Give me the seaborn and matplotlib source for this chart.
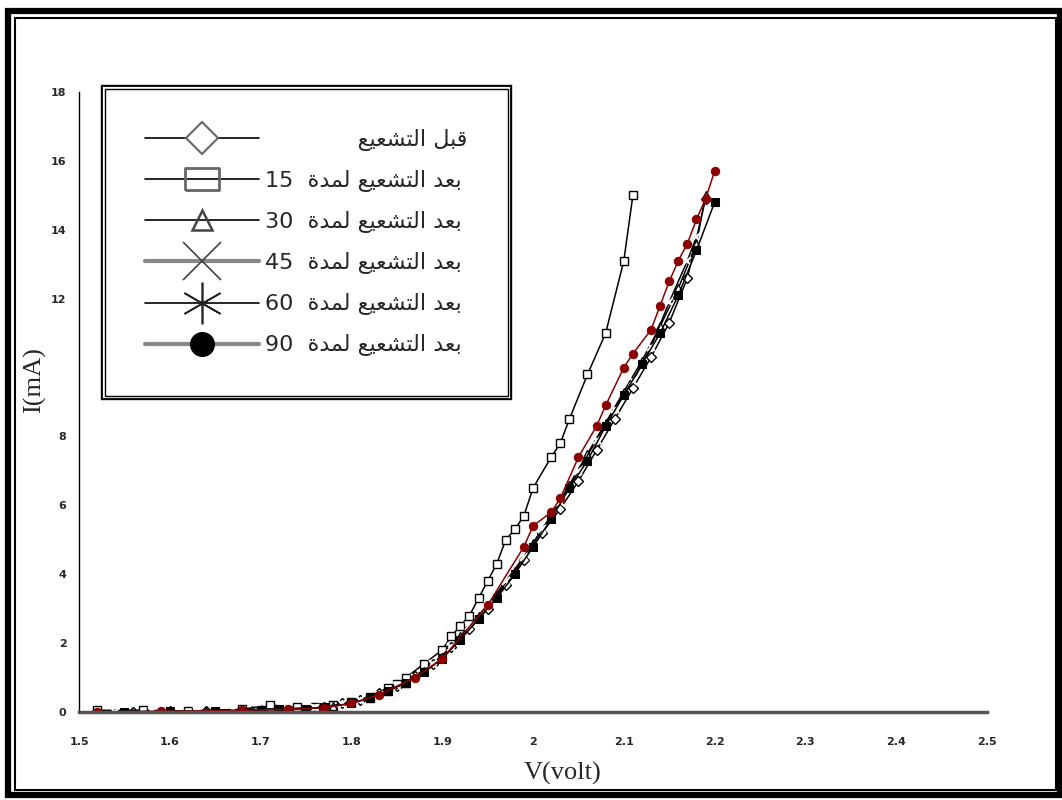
import seaborn as sns
import matplotlib.pyplot as plt
import matplotlib.patheffects as pe
from matplotlib.lines import Line2D
from matplotlib.patches import Rectangle

# I-V readings (V in volt, I in mA) for each irradiation time
before_v = [1.52, 1.56, 1.60, 1.64, 1.68, 1.71, 1.74, 1.77, 1.79, 1.81, 1.83, 1.85, 1.87, 1.89, 1.91,
            1.93, 1.95, 1.97, 1.99, 2.01, 2.03, 2.05, 2.07, 2.09, 2.11, 2.13, 2.15, 2.17, 2.19]
before_i = [0.03, 0.0, 0.02, 0.03, 0.05, 0.08, 0.1, 0.15, 0.25, 0.35, 0.55, 0.75, 1.05, 1.4, 1.9,
            2.4, 3.0, 3.7, 4.4, 5.2, 5.9, 6.7, 7.6, 8.5, 9.4, 10.3, 11.3, 12.6, 14.9]

t15_v = [1.52, 1.57, 1.62, 1.68, 1.71, 1.74, 1.76, 1.78, 1.80, 1.82, 1.84, 1.85, 1.86, 1.88, 1.90, 1.91,
         1.92, 1.93, 1.94, 1.95, 1.96, 1.97, 1.98, 1.99, 2.00, 2.02, 2.03, 2.04, 2.06, 2.08, 2.10, 2.11]
t15_i = [0.05, 0.05, 0.03, 0.08, 0.2, 0.15, 0.15, 0.2, 0.3, 0.45, 0.7, 0.8, 1.0, 1.4, 1.8, 2.2,
         2.5, 2.8, 3.3, 3.8, 4.3, 5.0, 5.3, 5.7, 6.5, 7.4, 7.8, 8.5, 9.8, 11.0, 13.1, 15.0]

t30_v = [1.55, 1.59, 1.64, 1.69, 1.72, 1.75, 1.78, 1.80, 1.82, 1.84, 1.86, 1.88, 1.90, 1.92, 1.94,
         1.96, 1.98, 2.00, 2.02, 2.04, 2.06, 2.08, 2.10, 2.12, 2.14, 2.16, 2.18, 2.19]
t30_i = [0.0, 0.01, 0.03, 0.06, 0.08, 0.1, 0.18, 0.28, 0.42, 0.62, 0.85, 1.2, 1.6, 2.2, 2.8,
         3.4, 4.1, 4.9, 5.7, 6.6, 7.5, 8.4, 9.3, 10.2, 11.2, 12.3, 13.6, 15.0]

t45_v = [1.54, 1.58, 1.63, 1.67, 1.70, 1.73, 1.76, 1.79, 1.81, 1.83, 1.85, 1.87, 1.89, 1.91, 1.93,
         1.95, 1.97, 1.99, 2.01, 2.03, 2.05, 2.07, 2.09, 2.11, 2.13, 2.15, 2.17, 2.18]
t45_i = [0.0, 0.02, 0.03, 0.05, 0.08, 0.1, 0.13, 0.22, 0.35, 0.5, 0.75, 1.0, 1.4, 1.9, 2.5,
         3.1, 3.8, 4.5, 5.3, 6.1, 7.0, 7.9, 8.8, 9.6, 10.6, 11.9, 13.1, 13.8]

t60_v = [1.55, 1.60, 1.65, 1.70, 1.72, 1.75, 1.77, 1.80, 1.82, 1.84, 1.86, 1.88, 1.90, 1.92, 1.94,
         1.96, 1.98, 2.00, 2.02, 2.04, 2.06, 2.08, 2.10, 2.12, 2.14, 2.16, 2.18, 2.20]
t60_i = [0.0, 0.02, 0.03, 0.06, 0.08, 0.1, 0.14, 0.25, 0.4, 0.6, 0.85, 1.15, 1.55, 2.1, 2.7,
         3.3, 4.0, 4.8, 5.6, 6.5, 7.3, 8.3, 9.2, 10.1, 11.0, 12.1, 13.4, 14.8]

t90_v = [1.52, 1.59, 1.68, 1.73, 1.77, 1.80, 1.83, 1.87, 1.90, 1.95, 1.99, 2.00, 2.02, 2.03,
         2.05, 2.07, 2.08, 2.10, 2.11, 2.13, 2.14, 2.15, 2.16, 2.17, 2.18, 2.19, 2.20]
t90_i = [0.0, 0.02, 0.05, 0.08, 0.12, 0.25, 0.5, 1.0, 1.55, 3.1, 4.8, 5.4, 5.8, 6.2,
         7.4, 8.3, 8.9, 10.0, 10.4, 11.1, 11.8, 12.5, 13.1, 13.6, 14.3, 14.9, 15.7]

x_ticks = [1.5, 1.6, 1.7, 1.8, 1.9, 2.0, 2.1, 2.2, 2.3, 2.4, 2.5]
x_labels = ['1.5', '1.6', '1.7', '1.8', '1.9', '2', '2.1', '2.2', '2.3', '2.4', '2.5']
y_ticks = [0, 2, 4, 6, 8, 10, 12, 14, 16, 18]
y_labels = ['0', '2', '4', '6', '8', '', '12', '14', '16', '18']

label_before = 'قبل التشعيع'
label_after = 'بعد التشعيع لمدة'
minutes = ['15', '30', '45', '60', '90']

# matplotlib does no Arabic shaping, so use presentation forms in visual order
FORMS = {
    'ا': ('\uFE8D', '\uFE8E', None, None),
    'ب': ('\uFE8F', '\uFE90', '\uFE91', '\uFE92'),
    'ة': ('\uFE93', '\uFE94', None, None),
    'ت': ('\uFE95', '\uFE96', '\uFE97', '\uFE98'),
    'د': ('\uFEA9', '\uFEAA', None, None),
    'ش': ('\uFEB5', '\uFEB6', '\uFEB7', '\uFEB8'),
    'ع': ('\uFEC9', '\uFECA', '\uFECB', '\uFECC'),
    'ق': ('\uFED5', '\uFED6', '\uFED7', '\uFED8'),
    'ل': ('\uFEDD', '\uFEDE', '\uFEDF', '\uFEE0'),
    'م': ('\uFEE1', '\uFEE2', '\uFEE3', '\uFEE4'),
    'ي': ('\uFEF1', '\uFEF2', '\uFEF3', '\uFEF4'),
}


def shape(text):
    out = []
    for k, ch in enumerate(text):
        if ch not in FORMS:
            out.append(ch)
            continue
        iso, fin, ini, med = FORMS[ch]
        prev = text[k - 1] if k > 0 else ''
        nxt = text[k + 1] if k + 1 < len(text) else ''
        from_prev = prev in FORMS and FORMS[prev][2] is not None
        to_next = ini is not None and nxt in FORMS
        if from_prev and to_next:
            out.append(med)
        elif from_prev:
            out.append(fin)
        elif to_next:
            out.append(ini)
        else:
            out.append(iso)
    return ''.join(reversed(out))


sns.set_style('white')
plt.rcParams['font.family'] = ['DejaVu Sans']

fig = plt.figure(figsize=(10.62, 8), dpi=100)
ax = fig.add_axes([0.0744, 0.11, 0.855, 0.775])

red = '#8b0000'
open_kw = dict(markerfacecolor='white', markeredgecolor='black', markeredgewidth=1.0)
sns.lineplot(x=before_v, y=before_i, ax=ax, sort=False, color='black', lw=1.1,
             marker='D', markersize=5, **open_kw)
sns.lineplot(x=t15_v, y=t15_i, ax=ax, sort=False, color='black', lw=1.1,
             marker='s', markersize=6, **open_kw)
sns.lineplot(x=t30_v, y=t30_i, ax=ax, sort=False, color='black', lw=1.1,
             marker='^', markersize=6, **open_kw)
sns.lineplot(x=t45_v, y=t45_i, ax=ax, sort=False, color='black', lw=1.1,
             marker='x', markersize=6, markeredgewidth=1.5)
sns.lineplot(x=t60_v, y=t60_i, ax=ax, sort=False, color='black', lw=1.1,
             marker='s', markersize=6, markerfacecolor='black', markeredgecolor='black')
sns.lineplot(x=t90_v, y=t90_i, ax=ax, sort=False, color=red, lw=1.1,
             marker='o', markersize=6, markerfacecolor=red, markeredgecolor=red)

ax.set_xlim(1.5, 2.5)
ax.set_ylim(0, 18)
ax.set_xticks(x_ticks)
ax.set_xticklabels(x_labels, fontsize=8, fontweight='bold')
ax.set_yticks(y_ticks)
ax.set_yticklabels(y_labels, fontsize=8, fontweight='bold')
ax.tick_params(axis='x', direction='in', length=3, width=1.5, pad=18)
ax.tick_params(axis='y', direction='out', length=4, width=1, pad=5)

for side in ['top', 'right']:
    ax.spines[side].set_visible(False)
ax.spines['left'].set_color('black')
ax.spines['left'].set_linewidth(1)
ax.spines['bottom'].set_color('#555555')
ax.spines['bottom'].set_linewidth(2.5)

ax.set_xlabel('V(volt)', fontsize=19, family='Liberation Serif')
ax.set_ylabel('I(mA)', fontsize=19, family='Liberation Serif')
ax.xaxis.set_label_coords(0.533, -0.08)
ax.yaxis.set_label_coords(-0.036, 0.535)

# legend with large sample markers
wide_box = [(-1.5, -1), (1.5, -1), (1.5, 1), (-1.5, 1), (-1.5, -1)]
handles = [
    Line2D([], [], color='black', lw=1.2, marker='D', markersize=16,
           markerfacecolor='white', markeredgecolor='#666666', markeredgewidth=1.5),
    Line2D([], [], color='black', lw=1.2, marker=wide_box, markersize=24,
           markerfacecolor='none', markeredgecolor='#666666', markeredgewidth=2),
    Line2D([], [], color='black', lw=1.2, marker='^', markersize=15,
           markerfacecolor='none', markeredgecolor='#444444', markeredgewidth=1.8),
    Line2D([], [], color='#888888', lw=3, marker='x', markersize=28,
           markeredgecolor='#444444', markeredgewidth=1.2),
    Line2D([], [], color='black', lw=1.2, marker=(6, 2, 0), markersize=30,
           markeredgecolor='#222222', markeredgewidth=1.2),
    Line2D([], [], color='#888888', lw=3, marker='o', markersize=17,
           markerfacecolor='black', markeredgecolor='black'),
]
labels = [' ' * 13 + shape(label_before)] + [m + '  ' + shape(label_after) for m in minutes]
leg = ax.legend(handles, labels, loc='upper left', bbox_to_anchor=(0.029, 1.005),
                borderaxespad=0, fontsize=16, handlelength=5.1, handletextpad=0.3,
                labelspacing=0.86, borderpad=1.8, fancybox=False, framealpha=1,
                edgecolor='black')
leg.get_frame().set_linewidth(1)
leg.get_frame().set_path_effects([pe.Stroke(linewidth=6, foreground='black'),
                                  pe.Stroke(linewidth=3, foreground='white'),
                                  pe.Normal()])

# double frame round the whole picture
fig.patches.append(Rectangle((0.008, 0.006), 0.99, 0.98, transform=fig.transFigure,
                             fill=False, edgecolor='black', lw=4.5))
fig.patches.append(Rectangle((0.0145, 0.012), 0.98, 0.965, transform=fig.transFigure,
                             fill=False, edgecolor='black', lw=1.5))

plt.savefig('out.png', dpi=100)
